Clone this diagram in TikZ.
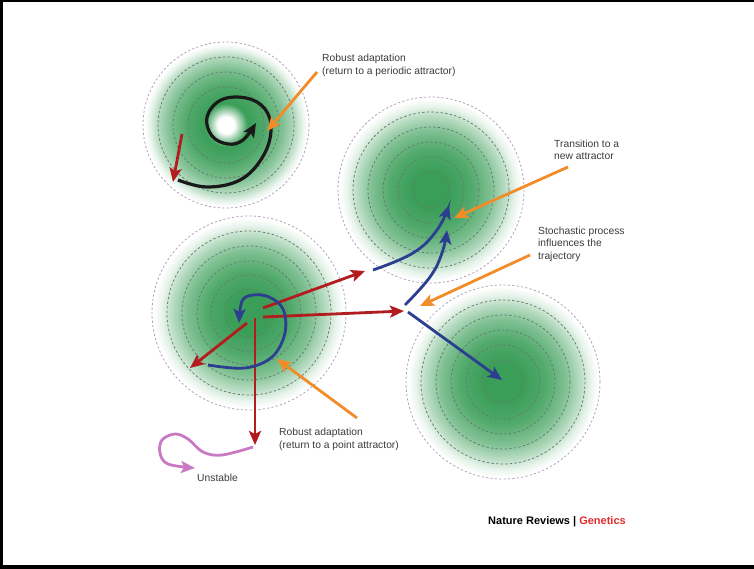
\documentclass[tikz,border=0pt]{standalone}
\usepackage{fontspec}
\setmainfont{Liberation Sans}
\usetikzlibrary{arrows.meta}

\definecolor{basinG}{RGB}{58,158,88}
\colorlet{basinA}{basinG!88!white}
\colorlet{basinM}{basinG!65!white}
\colorlet{basinL}{basinG!35!white}
\colorlet{basinX}{basinG!12!white}
\definecolor{ringOut}{RGB}{175,160,190}
\definecolor{ringIn}{RGB}{100,122,108}
\definecolor{arRed}{RGB}{178,28,30}
\definecolor{arBlue}{RGB}{44,62,142}
\definecolor{arOrange}{RGB}{242,140,40}
\definecolor{arPink}{RGB}{200,122,196}
\definecolor{txtGray}{RGB}{60,60,60}
\definecolor{npgRed}{RGB}{225,45,45}

% basin of attraction: green core fading to white at the outer ring
\pgfdeclareradialshading{basin}{\pgfpoint{0bp}{0bp}}{%
  color(0bp)=(basinG); color(5bp)=(basinG); color(11bp)=(basinA);
  color(16bp)=(basinM); color(20bp)=(basinL); color(22.5bp)=(basinX);
  color(24.5bp)=(white); color(50bp)=(white)}
% periodic attractor: white hole in the middle
\pgfdeclareradialshading{basinhole}{\pgfpoint{0bp}{0bp}}{%
  color(0bp)=(white); color(2.5bp)=(white); color(6.5bp)=(basinG);
  color(12bp)=(basinA); color(17bp)=(basinM); color(21bp)=(basinL);
  color(23bp)=(basinX); color(24.5bp)=(white); color(50bp)=(white)}

\tikzset{
  ringout/.style={draw=ringOut, line width=0.8pt, dash pattern=on 2.2pt off 2.2pt},
  ringin/.style={draw=ringIn, line width=0.75pt, dash pattern=on 2.4pt off 2.2pt},
  tip/.style={-{Stealth[length=14pt,width=12pt,inset=3pt]}},
  redA/.style={tip, draw=arRed, line width=2.8pt},
  blueA/.style={tip, draw=arBlue, line width=2.8pt},
  orangeA/.style={tip, draw=arOrange, line width=2.8pt},
  blackA/.style={tip, draw=black!90, line width=3.2pt},
  pinkA/.style={tip, draw=arPink, line width=2.8pt},
  lbl/.style={inner sep=0pt, anchor=base west, text=txtGray,
    font=\fontsize{10.3}{12}\selectfont},
}

\begin{document}
\begin{tikzpicture}[x=1pt,y=-1pt]
\useasboundingbox (0,0) rectangle (754,569);
\fill[white] (0,0) rectangle (754,569);

% frame
\draw[line width=2.5pt] (754,1.25) -- (1.25,1.25) -- (1.25,566);
\draw[line width=3.5pt] (0,567) -- (754,567);

% attractor centres
\coordinate (tl) at (226,125);
\coordinate (tm) at (431,190);
\coordinate (bl) at (249,313);
\coordinate (br) at (503,382);

% basins
\shade[shading=basinhole] (tl) circle (83);
\shade[shading=basin] (tm) circle (93);
\shade[shading=basin] (bl) circle (97);
\shade[shading=basin] (br) circle (97);

% contour rings
\foreach \r in {68,53,38} \draw[ringin] (tl) circle (\r);
\draw[ringout] (tl) circle (83);
\foreach \r in {78,63,48,33,18} \draw[ringin] (tm) circle (\r);
\draw[ringout] (tm) circle (93);
\foreach \r in {82,67,52,38,24} \draw[ringin] (bl) circle (\r);
\draw[ringout] (bl) circle (97);
\foreach \r in {82,67,52,37,21} \draw[ringin] (br) circle (\r);
\draw[ringout] (br) circle (97);

% periodic attractor: perturbation and spiral back onto the cycle
\coordinate (tlRedS) at (182,134);
\coordinate (tlRedE) at (173,182);
\draw[redA] (tlRedS) -- (tlRedE);
\draw[blackA] plot[smooth, tension=0.65] coordinates {(178,180) (207,187) (240,180)
  (262,158) (271,131) (265,109) (246,98) (221,100) (207,117) (212,136) (228,144)
  (243,140) (256,123)};

% point attractor: perturbations
\coordinate (blA) at (263,308);
\coordinate (blB) at (263,317);
\coordinate (blC) at (247,323);
\coordinate (blD) at (255,318);
\coordinate (gapA) at (365,271);
\coordinate (gapB) at (404,311);
\coordinate (blCend) at (190,368);
\coordinate (blDend) at (255,445);
\draw[redA] (blA) -- (gapA);
\draw[redA] (blB) -- (gapB);
\draw[redA] (blC) -- (blCend);
\draw[redA] (blD) -- (blDend);

% return to the point attractor
\draw[blueA] plot[smooth, tension=0.6] coordinates {(208,365) (245,368) (272,357)
  (285,333) (283,309) (269,297) (253,295) (242,301) (239,323)};

% transitions to the other attractors
\draw[blueA] plot[smooth, tension=0.7] coordinates {(373,270) (413,253) (437,230) (449,205)};
\draw[blueA] plot[smooth, tension=0.7] coordinates {(405,305) (430,277) (442,253) (447,230)};
\coordinate (brS) at (408,312);
\coordinate (brE) at (502,380);
\draw[blueA] (brS) -- (brE);

% unstable trajectory
\draw[pinkA] plot[smooth, tension=0.6] coordinates {(253,447) (222,455) (203,452)
  (188,439) (175,434) (162,440) (160,453) (168,464) (195,468)};

% labels
\node[lbl] (tlLabA) at (322,62) {Robust adaptation};
\node[lbl] (tlLabB) at (322,75) {(return to a periodic attractor)};
\node[lbl] (tmLabA) at (554,148) {Transition to a};
\node[lbl] (tmLabB) at (554,160) {new attractor};
\node[lbl] (stLabA) at (538,235) {Stochastic process};
\node[lbl] (stLabB) at (538,247) {influences the};
\node[lbl] (stLabC) at (538,259) {trajectory};
\node[lbl] (blLabA) at (279,435) {Robust adaptation};
\node[lbl] (blLabB) at (279,448) {(return to a point attractor)};
\node[lbl] (unLab) at (197,481) {Unstable};
\node[inner sep=0pt, anchor=base west, font=\fontsize{11}{13}\selectfont\bfseries]
  (credit) at (488,524) {Nature Reviews \textcolor{black}{|} \textcolor{npgRed}{Genetics}};

% pointers from the labels
\coordinate (tlPtr) at (317,72);
\coordinate (tlPtrE) at (267,131);
\coordinate (tmPtr) at (568,167);
\coordinate (tmPtrE) at (454,218);
\coordinate (stPtr) at (530,255);
\coordinate (stPtrE) at (420,306);
\coordinate (blPtr) at (357,418);
\coordinate (blPtrE) at (277,359);
\draw[orangeA] (tlPtr) -- (tlPtrE);
\draw[orangeA] (tmPtr) -- (tmPtrE);
\draw[orangeA] (stPtr) -- (stPtrE);
\draw[orangeA] (blPtr) -- (blPtrE);
\end{tikzpicture}
\end{document}
